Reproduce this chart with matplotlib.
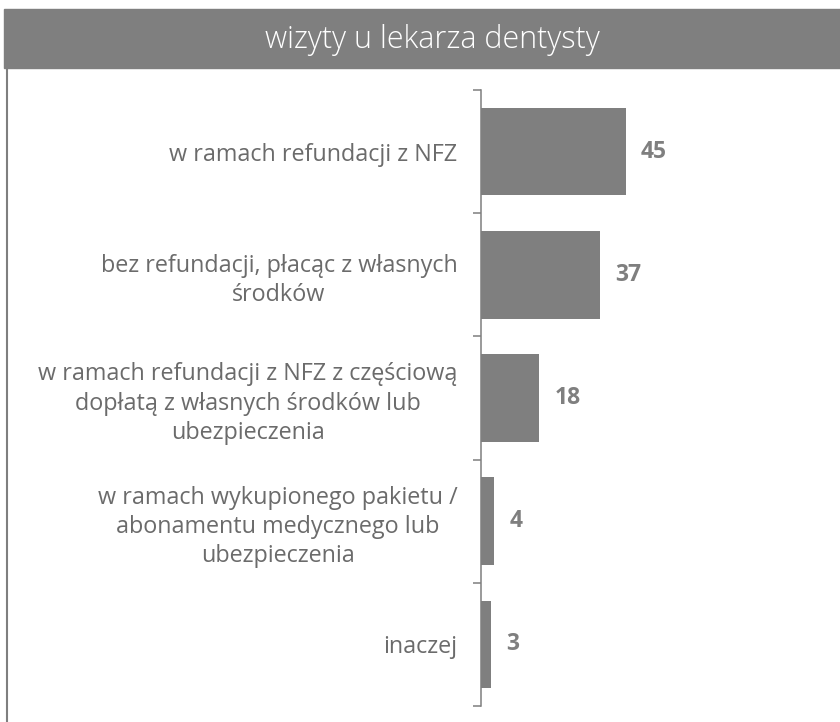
import matplotlib
matplotlib.use("Agg")
import matplotlib.pyplot as plt
from matplotlib.patches import Rectangle
from matplotlib.lines import Line2D

TITLE = "wizyty u lekarza dentysty"
CATEGORIES = [
    "w ramach refundacji z NFZ",
    "bez refundacji, płacąc z własnych\nśrodków",
    "w ramach refundacji z NFZ z częściową\ndopłatą z własnych środków lub\nubezpieczenia",
    "w ramach wykupionego pakietu /\nabonamentu medycznego lub\nubezpieczenia",
    "inaczej",
]
VALUES = [45, 37, 18, 4, 3]

GREY = "#7f7f7f"
TEXT = "#6b6b6b"

plt.rcParams["font.family"] = ["Open Sans", "DejaVu Sans"]

fig = plt.figure(figsize=(8.4, 7.22), dpi=100)
ax = fig.add_axes([481 / 840, 1 - 706 / 722, 354 / 840, 616 / 722])

pos = list(range(len(CATEGORIES)))
ax.barh(pos, VALUES, height=0.71, color=GREY)
for y, v in zip(pos, VALUES):
    ax.annotate(str(v), (v, y), xytext=(11, 0), textcoords="offset points",
                ha="left", va="center", fontsize=16.5, fontweight="bold", color=GREY)

ax.set_xlim(0, 110)
ax.set_ylim(len(CATEGORIES) - 0.5, -0.5)
ax.set_yticks(pos)
ax.set_yticklabels(CATEGORIES, fontsize=16.8, color=TEXT)
for lbl in ax.get_yticklabels():
    lbl.set_multialignment("center")
    lbl.set_linespacing(1.3)
ax.tick_params(axis="y", which="major", length=0, pad=17)
ax.set_yticks([p - 0.5 for p in pos] + [len(pos) - 0.5], minor=True)
ax.tick_params(axis="y", which="minor", length=6, width=1.1, color=GREY, direction="out")
ax.set_xticks([])
for side in ("top", "right", "bottom"):
    ax.spines[side].set_visible(False)
ax.spines["left"].set_color(GREY)
ax.spines["left"].set_linewidth(1.1)

# header band and frame
fig.patches.append(Rectangle((4 / 840, 1 - 68 / 722), 1, 59 / 722,
                             transform=fig.transFigure, color=GREY, zorder=0))
fig.lines.append(Line2D([6.5 / 840, 6.5 / 840], [0, 1 - 68 / 722],
                        transform=fig.transFigure, color=GREY, lw=1.5))
fig.text(432 / 840, 1 - 40 / 722, TITLE, ha="center", va="center",
         fontsize=22, fontweight=300, color="white")

fig.savefig("out.png", dpi=100)
